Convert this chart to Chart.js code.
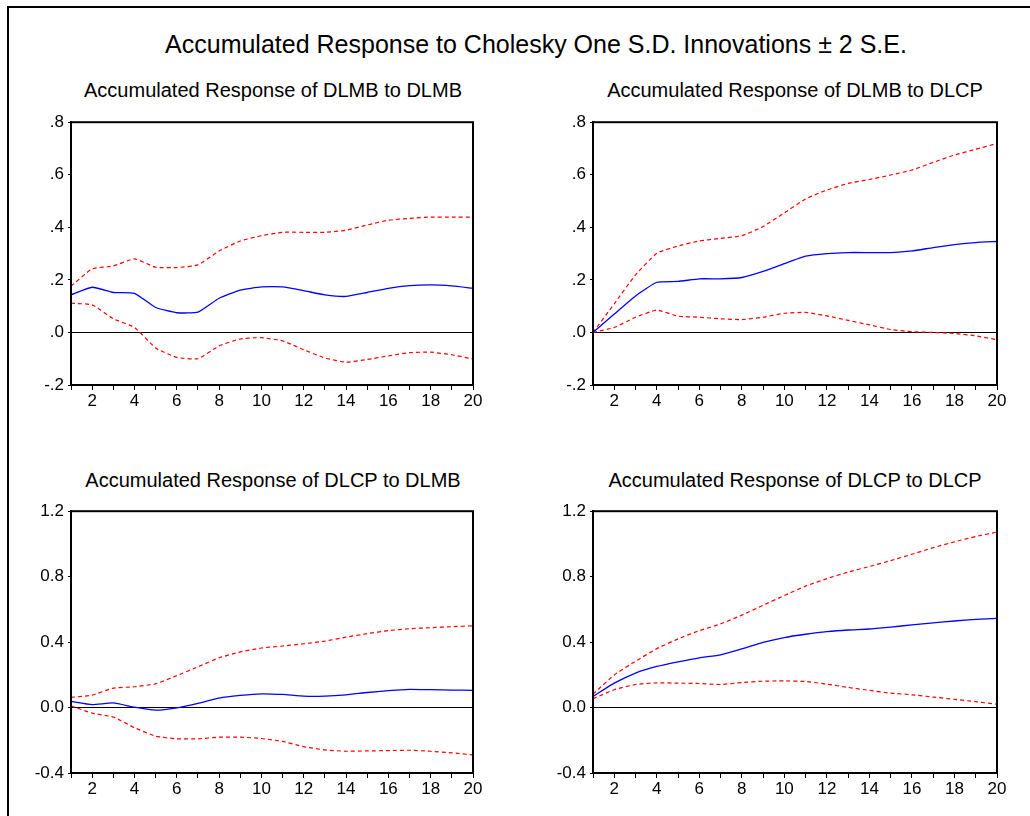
<!DOCTYPE html>
<html>
<head>
<meta charset="utf-8">
<script src="https://cdn.jsdelivr.net/npm/chart.js@4.4.1/dist/chart.umd.min.js"></script>
<style>
  body { margin: 0; background: #fff; font-family: "Liberation Sans", Arial, sans-serif; }
  #page { position: relative; width: 1030px; height: 816px; overflow: hidden; background: #fff; }
  #frame { position: absolute; left: 7px; top: 6px; right: -10px; bottom: -10px;
           border-left: 2px solid #000; border-top: 2px solid #000; }
  .title { position: absolute; white-space: nowrap; transform: translateX(-50%); color: #000; }
  #mainTitle { left: 536px; top: 30px; font-size: 25px; }
  .sub { font-size: 20px; }
  canvas { position: absolute; }
</style>
</head>
<body>
<div id="page">
  <div id="frame"></div>
  <div class="title" id="mainTitle">Accumulated Response to Cholesky One S.D. Innovations ± 2 S.E.</div>
  <div class="title sub" style="left:273px; top:79px;">Accumulated Response of DLMB to DLMB</div>
  <div class="title sub" style="left:795px; top:79px;">Accumulated Response of DLMB to DLCP</div>
  <div class="title sub" style="left:273px; top:469px;">Accumulated Response of DLCP to DLMB</div>
  <div class="title sub" style="left:795px; top:469px;">Accumulated Response of DLCP to DLCP</div>
  <canvas id="c1"></canvas>
  <canvas id="c2"></canvas>
  <canvas id="c3"></canvas>
  <canvas id="c4"></canvas>
</div>
<script>
const periods = ['1','2','3','4','5','6','7','8','9','10','11','12','13','14','15','16','17','18','19','20'];

// DLMB to DLMB
const mbmbResp  = [0.143, 0.172, 0.152, 0.149, 0.095, 0.075, 0.077, 0.130, 0.161, 0.173, 0.173, 0.159, 0.143, 0.137, 0.152, 0.168, 0.178, 0.181, 0.177, 0.168];
const mbmbUpper = [0.176, 0.242, 0.253, 0.280, 0.248, 0.247, 0.257, 0.310, 0.348, 0.368, 0.381, 0.381, 0.381, 0.389, 0.409, 0.427, 0.434, 0.439, 0.439, 0.439];
const mbmbLower = [0.111, 0.105, 0.052, 0.019, -0.059, -0.095, -0.100, -0.051, -0.025, -0.020, -0.032, -0.066, -0.097, -0.113, -0.103, -0.089, -0.077, -0.075, -0.085, -0.101];

// DLMB to DLCP
const mbcpResp  = [0.000, 0.070, 0.139, 0.191, 0.194, 0.204, 0.204, 0.209, 0.232, 0.262, 0.290, 0.300, 0.304, 0.304, 0.304, 0.310, 0.323, 0.334, 0.342, 0.346];
const mbcpUpper = [0.000, 0.109, 0.219, 0.301, 0.329, 0.348, 0.358, 0.368, 0.403, 0.455, 0.508, 0.542, 0.567, 0.582, 0.599, 0.618, 0.647, 0.675, 0.697, 0.719];
const mbcpLower = [0.000, 0.019, 0.058, 0.085, 0.062, 0.058, 0.052, 0.049, 0.058, 0.073, 0.076, 0.063, 0.046, 0.029, 0.011, 0.003, 0.000, -0.004, -0.013, -0.028];

// DLCP to DLMB
const cpmbResp  = [0.038, 0.018, 0.028, 0.002, -0.016, -0.002, 0.026, 0.058, 0.074, 0.084, 0.080, 0.070, 0.070, 0.078, 0.092, 0.103, 0.111, 0.109, 0.107, 0.105];
const cpmbUpper = [0.062, 0.076, 0.119, 0.127, 0.145, 0.195, 0.249, 0.304, 0.340, 0.364, 0.376, 0.390, 0.406, 0.430, 0.452, 0.470, 0.482, 0.488, 0.494, 0.500];
const cpmbLower = [0.010, -0.034, -0.058, -0.123, -0.175, -0.191, -0.191, -0.181, -0.181, -0.189, -0.207, -0.239, -0.259, -0.267, -0.265, -0.263, -0.261, -0.267, -0.277, -0.289];

// DLCP to DLCP
const cpcpResp  = [0.068, 0.149, 0.211, 0.251, 0.279, 0.304, 0.322, 0.358, 0.398, 0.428, 0.448, 0.464, 0.474, 0.480, 0.492, 0.505, 0.517, 0.529, 0.539, 0.545];
const cpcpUpper = [0.082, 0.199, 0.283, 0.360, 0.420, 0.470, 0.511, 0.565, 0.625, 0.685, 0.742, 0.788, 0.828, 0.862, 0.898, 0.937, 0.977, 1.013, 1.045, 1.073];
const cpcpLower = [0.054, 0.109, 0.141, 0.151, 0.149, 0.147, 0.141, 0.153, 0.161, 0.163, 0.159, 0.143, 0.123, 0.105, 0.088, 0.078, 0.064, 0.050, 0.036, 0.020];

// canvas margins around each plot box
const PAD_L = 45, PAD_T = 10, PAD_R = 16, PAD_B = 26;

const framePlugin = {
  id: 'frame',
  afterDraw(chart) {
    const a = chart.chartArea, c = chart.ctx;
    c.save();
    c.strokeStyle = '#000';
    c.lineWidth = 2;
    c.strokeRect(a.left, a.top, a.right - a.left, a.bottom - a.top);
    c.restore();
  }
};

function topFmt(v) {
  return v.toFixed(1).replace('0.', '.');
}
function botFmt(v) {
  return v.toFixed(1);
}

function makePanel(id, box, resp, upper, lower, yMin, yMax, yStep, fmt) {
  const cv = document.getElementById(id);
  const w = PAD_L + box[2] + PAD_R, h = PAD_T + box[3] + PAD_B;
  cv.width = w; cv.height = h;
  cv.style.left = (box[0] - PAD_L) + 'px';
  cv.style.top = (box[1] - PAD_T) + 'px';
  cv.style.width = w + 'px'; cv.style.height = h + 'px';

  const band = (d) => ({
    data: d, borderColor: '#ff0000', borderWidth: 1.2, borderDash: [4, 3],
    pointRadius: 0, tension: 0.15, fill: false
  });

  new Chart(cv.getContext('2d'), {
    type: 'line',
    data: {
      labels: periods,
      datasets: [
        { data: resp, borderColor: '#0000ff', borderWidth: 1.3, pointRadius: 0, tension: 0.15, fill: false },
        band(upper),
        band(lower)
      ]
    },
    options: {
      responsive: false,
      animation: false,
      layout: { padding: { top: PAD_T, right: PAD_R, left: 0, bottom: 0 } },
      plugins: { legend: { display: false }, tooltip: { enabled: false } },
      scales: {
        x: {
          offset: false,
          afterFit: s => { s.height = PAD_B; },
          grid: { drawOnChartArea: false, tickLength: 5, color: '#000', tickColor: '#000' },
          border: { color: '#000', width: 2 },
          ticks: {
            autoSkip: false, maxRotation: 0, padding: 1,
            color: '#000', font: { family: 'Liberation Sans, Arial', size: 17 },
            callback: function (v, i) { return (i + 1) % 2 === 0 ? this.getLabelForValue(v) : ''; }
          }
        },
        y: {
          min: yMin, max: yMax,
          afterFit: s => { s.width = PAD_L; },
          grid: {
            drawOnChartArea: true, tickLength: 3, tickColor: '#000',
            color: c => Math.abs(c.tick.value) < 1e-9 ? '#000' : 'rgba(0,0,0,0)',
            lineWidth: 1
          },
          border: { color: '#000', width: 2 },
          ticks: {
            stepSize: yStep, padding: 4,
            color: '#000', font: { family: 'Liberation Sans, Arial', size: 17 },
            callback: v => fmt(v)
          }
        }
      }
    },
    plugins: [framePlugin]
  });
}

makePanel('c1', [71, 118, 402, 267], mbmbResp, mbmbUpper, mbmbLower, -0.2, 0.8, 0.2, topFmt);
makePanel('c2', [593, 118, 404, 267], mbcpResp, mbcpUpper, mbcpLower, -0.2, 0.8, 0.2, topFmt);
makePanel('c3', [71, 507, 402, 266], cpmbResp, cpmbUpper, cpmbLower, -0.4, 1.2, 0.4, botFmt);
makePanel('c4', [593, 507, 404, 266], cpcpResp, cpcpUpper, cpcpLower, -0.4, 1.2, 0.4, botFmt);
</script>
</body>
</html>
